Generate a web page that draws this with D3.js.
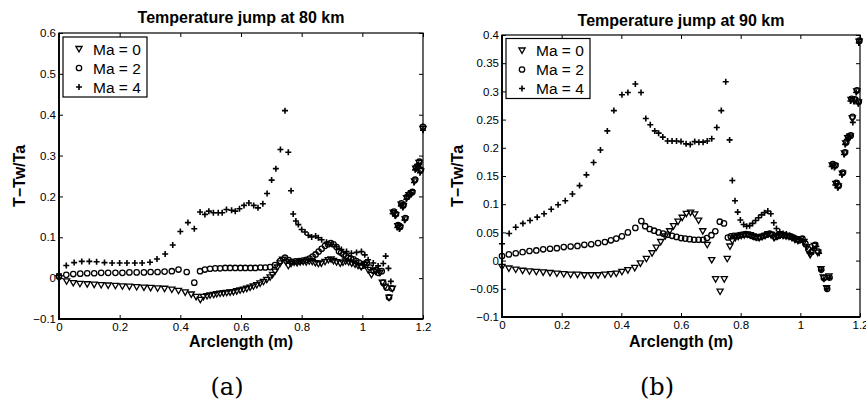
<!DOCTYPE html>
<html>
<head>
<meta charset="utf-8">
<script src="https://cdn.jsdelivr.net/npm/d3@7"></script>
<style>
  body { margin: 0; background: #fff; }
  svg { display: block; }
  .tick text { font-family: "Liberation Sans", Arial, sans-serif; font-size: 11.5px; fill: #000; }
  .tick line { stroke: #000; stroke-width: 1; }
  .lbl { font-family: "Liberation Sans", Arial, sans-serif; font-weight: bold; font-size: 16px; fill: #000; }
  .leg { font-family: "Liberation Sans", Arial, sans-serif; font-size: 15.5px; fill: #000; }
  .cap { font-family: "DejaVu Serif", serif; font-size: 24px; fill: #000; }
</style>
</head>
<body>
<svg id="chart" width="866" height="406"></svg>
<script>
// ---- data (arclength m, T-Tw/Ta) ----
const legendNames = ["Ma = 0", "Ma = 2", "Ma = 4"];
const xTicks = [0, 0.2, 0.4, 0.6, 0.8, 1, 1.2];
const xTickLabels = ["0", "0.2", "0.4", "0.6", "0.8", "1", "1.2"];
const yTicks80 = [-0.1, 0, 0.1, 0.2, 0.3, 0.4, 0.5, 0.6];
const yTickLabels80 = ["\u22120.1", "0", "0.1", "0.2", "0.3", "0.4", "0.5", "0.6"];
const yTicks90 = [-0.1, -0.05, 0, 0.05, 0.1, 0.15, 0.2, 0.25, 0.3, 0.35, 0.4];
const yTickLabels90 = ["\u22120.1", "\u22120.05", "0", "0.05", "0.1", "0.15", "0.2", "0.25", "0.3", "0.35", "0.4"];

// 80 km
const ma0_80 = [[0,0],[0.025,-0.008],[0.047,-0.012],[0.069,-0.014],[0.093,-0.015],[0.116,-0.016],[0.139,-0.017],[0.162,-0.018],[0.186,-0.019],[0.209,-0.02],[0.232,-0.021],[0.256,-0.022],[0.28,-0.023],[0.302,-0.024],[0.325,-0.025],[0.348,-0.026],[0.372,-0.028],[0.394,-0.031],[0.416,-0.035],[0.436,-0.04],[0.452,-0.046],[0.466,-0.053],[0.476,-0.046],[0.488,-0.044],[0.498,-0.042],[0.51,-0.041],[0.52,-0.039],[0.531,-0.038],[0.542,-0.037],[0.553,-0.036],[0.564,-0.035],[0.575,-0.034],[0.586,-0.032],[0.597,-0.03],[0.608,-0.028],[0.619,-0.026],[0.63,-0.023],[0.641,-0.02],[0.652,-0.017],[0.663,-0.013],[0.674,-0.009],[0.685,-0.004],[0.696,0.002],[0.704,0.008],[0.712,0.016],[0.72,0.026],[0.729,0.036],[0.737,0.045],[0.748,0.04],[0.756,0.03],[0.765,0.035],[0.775,0.038],[0.785,0.037],[0.795,0.039],[0.805,0.04],[0.815,0.039],[0.825,0.041],[0.835,0.04],[0.845,0.037],[0.855,0.035],[0.865,0.036],[0.877,0.04],[0.888,0.044],[0.897,0.046],[0.905,0.042],[0.915,0.039],[0.927,0.036],[0.936,0.038],[0.945,0.041],[0.955,0.039],[0.965,0.036],[0.976,0.033],[0.986,0.03],[0.996,0.027],[1.008,0.032],[1.019,0.02],[1.03,0.008],[1.044,0.016],[1.058,0.013],[1.066,-0.011],[1.075,-0.021],[1.088,-0.048],[1.099,-0.026],[1.102,0.16],[1.11,0.154],[1.117,0.127],[1.124,0.123],[1.128,0.18],[1.135,0.176],[1.141,0.144],[1.146,0.196],[1.154,0.203],[1.163,0.208],[1.172,0.237],[1.176,0.268],[1.183,0.272],[1.187,0.282],[1.192,0.262],[1.2,0.365]];
const ma2_80 = [[0,0.004],[0.024,0.008],[0.047,0.01],[0.07,0.011],[0.093,0.012],[0.116,0.012],[0.139,0.013],[0.162,0.013],[0.186,0.013],[0.209,0.013],[0.232,0.014],[0.256,0.014],[0.28,0.014],[0.302,0.015],[0.325,0.015],[0.348,0.016],[0.372,0.017],[0.394,0.021],[0.421,0.015],[0.446,-0.011],[0.465,0.017],[0.481,0.021],[0.498,0.023],[0.515,0.024],[0.531,0.024],[0.548,0.025],[0.564,0.025],[0.581,0.025],[0.598,0.025],[0.614,0.025],[0.631,0.025],[0.647,0.025],[0.664,0.026],[0.68,0.026],[0.696,0.027],[0.712,0.032],[0.729,0.042],[0.745,0.05],[0.757,0.044],[0.768,0.04],[0.78,0.041],[0.792,0.042],[0.804,0.043],[0.815,0.045],[0.826,0.048],[0.836,0.053],[0.846,0.058],[0.856,0.065],[0.866,0.072],[0.877,0.079],[0.887,0.083],[0.896,0.086],[0.905,0.083],[0.915,0.076],[0.923,0.066],[0.93,0.062],[0.938,0.058],[0.946,0.054],[0.954,0.05],[0.962,0.048],[0.971,0.046],[0.98,0.042],[0.989,0.038],[0.998,0.03],[1.006,0.035],[1.015,0.038],[1.026,0.026],[1.037,0.018],[1.047,0.02],[1.053,0.013],[1.064,0.017],[1.069,-0.011],[1.08,-0.023],[1.088,-0.047],[1.097,-0.025],[1.104,0.163],[1.111,0.157],[1.118,0.13],[1.125,0.126],[1.129,0.183],[1.136,0.179],[1.142,0.147],[1.148,0.199],[1.156,0.206],[1.165,0.211],[1.174,0.241],[1.177,0.27],[1.184,0.274],[1.188,0.285],[1.193,0.265],[1.2,0.37]];
const ma4_80 = [[0,0.01],[0.024,0.031],[0.05,0.038],[0.075,0.041],[0.1,0.041],[0.124,0.04],[0.15,0.038],[0.175,0.037],[0.2,0.037],[0.224,0.037],[0.25,0.037],[0.274,0.037],[0.3,0.039],[0.323,0.047],[0.35,0.059],[0.375,0.081],[0.4,0.114],[0.425,0.136],[0.446,0.121],[0.465,0.162],[0.481,0.156],[0.494,0.164],[0.509,0.16],[0.525,0.16],[0.538,0.16],[0.552,0.168],[0.569,0.166],[0.581,0.164],[0.595,0.17],[0.61,0.178],[0.626,0.184],[0.642,0.178],[0.656,0.172],[0.672,0.182],[0.686,0.207],[0.701,0.24],[0.715,0.268],[0.73,0.315],[0.745,0.41],[0.756,0.308],[0.765,0.214],[0.772,0.157],[0.781,0.14],[0.789,0.131],[0.8,0.119],[0.811,0.113],[0.822,0.105],[0.833,0.101],[0.846,0.103],[0.855,0.099],[0.866,0.094],[0.882,0.088],[0.899,0.083],[0.915,0.077],[0.931,0.07],[0.948,0.065],[0.964,0.061],[0.981,0.063],[0.997,0.065],[1.008,0.057],[1.019,0.045],[1.036,0.037],[1.052,0.03],[1.069,0.036],[1.077,0.054],[1.086,0.024],[1.094,-0.008],[1.1,0.158],[1.108,0.152],[1.115,0.124],[1.122,0.12],[1.127,0.177],[1.133,0.173],[1.139,0.142],[1.145,0.193],[1.152,0.2],[1.161,0.205],[1.17,0.234],[1.174,0.265],[1.18,0.268],[1.186,0.279],[1.19,0.258],[1.2,0.362]];

// 90 km
const ma0_90 = [[0,-0.011],[0.023,-0.014],[0.046,-0.016],[0.069,-0.018],[0.092,-0.019],[0.115,-0.02],[0.138,-0.021],[0.161,-0.022],[0.184,-0.023],[0.207,-0.024],[0.23,-0.025],[0.253,-0.025],[0.276,-0.026],[0.299,-0.026],[0.322,-0.026],[0.345,-0.025],[0.365,-0.024],[0.383,-0.023],[0.402,-0.02],[0.422,-0.017],[0.445,-0.013],[0.464,-0.005],[0.484,0.003],[0.503,0.013],[0.517,0.023],[0.532,0.033],[0.547,0.043],[0.562,0.052],[0.575,0.061],[0.59,0.069],[0.604,0.076],[0.618,0.083],[0.632,0.085],[0.646,0.082],[0.659,0.071],[0.673,0.052],[0.688,0.028],[0.703,0.001],[0.716,-0.033],[0.731,-0.055],[0.745,-0.033],[0.755,0.003],[0.764,0.025],[0.772,0.035],[0.782,0.04],[0.792,0.042],[0.802,0.044],[0.812,0.045],[0.822,0.046],[0.832,0.045],[0.842,0.043],[0.852,0.041],[0.862,0.04],[0.872,0.042],[0.882,0.044],[0.892,0.047],[0.902,0.045],[0.912,0.04],[0.922,0.043],[0.932,0.045],[0.942,0.044],[0.952,0.043],[0.962,0.042],[0.972,0.04],[0.982,0.037],[0.992,0.035],[1.002,0.038],[1.012,0.033],[1.022,0.024],[1.033,0.01],[1.047,0.026],[1.058,0.014],[1.069,-0.015],[1.077,-0.03],[1.088,-0.049],[1.096,-0.028],[1.107,0.169],[1.116,0.167],[1.119,0.136],[1.127,0.131],[1.141,0.154],[1.148,0.19],[1.152,0.208],[1.159,0.217],[1.167,0.22],[1.174,0.252],[1.17,0.285],[1.181,0.284],[1.189,0.3],[1.195,0.28],[1.197,0.388]];
const ma2_90 = [[0,0.008],[0.023,0.011],[0.046,0.013],[0.069,0.015],[0.092,0.017],[0.115,0.018],[0.138,0.02],[0.161,0.021],[0.184,0.022],[0.207,0.024],[0.23,0.025],[0.253,0.026],[0.276,0.028],[0.299,0.029],[0.322,0.031],[0.345,0.033],[0.365,0.036],[0.383,0.039],[0.402,0.043],[0.422,0.05],[0.447,0.058],[0.467,0.07],[0.48,0.061],[0.495,0.056],[0.51,0.053],[0.525,0.05],[0.54,0.048],[0.555,0.046],[0.57,0.044],[0.585,0.042],[0.6,0.04],[0.614,0.039],[0.629,0.038],[0.644,0.037],[0.659,0.037],[0.674,0.037],[0.687,0.04],[0.702,0.045],[0.715,0.052],[0.73,0.069],[0.744,0.066],[0.757,0.041],[0.767,0.043],[0.777,0.044],[0.787,0.044],[0.797,0.045],[0.807,0.046],[0.817,0.047],[0.827,0.046],[0.837,0.044],[0.847,0.042],[0.857,0.041],[0.867,0.042],[0.877,0.044],[0.887,0.046],[0.897,0.048],[0.907,0.046],[0.917,0.042],[0.927,0.044],[0.937,0.046],[0.947,0.045],[0.957,0.044],[0.967,0.043],[0.977,0.041],[0.987,0.038],[0.997,0.036],[1.007,0.039],[1.017,0.03],[1.027,0.02],[1.037,0.015],[1.05,0.028],[1.06,0.016],[1.07,-0.016],[1.079,-0.031],[1.09,-0.05],[1.098,-0.03],[1.109,0.171],[1.118,0.169],[1.121,0.138],[1.129,0.133],[1.143,0.156],[1.15,0.192],[1.154,0.21],[1.161,0.219],[1.169,0.222],[1.175,0.255],[1.172,0.287],[1.183,0.286],[1.19,0.302],[1.196,0.282],[1.198,0.39]];
const ma4_90 = [[0,0.03],[0.024,0.048],[0.046,0.059],[0.07,0.066],[0.094,0.071],[0.118,0.077],[0.141,0.083],[0.165,0.091],[0.188,0.099],[0.212,0.106],[0.236,0.118],[0.26,0.133],[0.283,0.152],[0.307,0.174],[0.33,0.196],[0.353,0.23],[0.375,0.266],[0.402,0.294],[0.422,0.298],[0.447,0.313],[0.466,0.298],[0.482,0.252],[0.497,0.241],[0.512,0.23],[0.525,0.226],[0.539,0.219],[0.555,0.212],[0.57,0.212],[0.585,0.212],[0.6,0.211],[0.617,0.207],[0.631,0.206],[0.646,0.211],[0.66,0.21],[0.674,0.21],[0.688,0.212],[0.703,0.216],[0.72,0.236],[0.735,0.266],[0.75,0.317],[0.763,0.214],[0.772,0.142],[0.781,0.106],[0.79,0.086],[0.799,0.072],[0.81,0.064],[0.82,0.061],[0.83,0.062],[0.84,0.066],[0.85,0.071],[0.86,0.076],[0.87,0.081],[0.88,0.085],[0.891,0.088],[0.901,0.083],[0.911,0.067],[0.92,0.057],[0.931,0.051],[0.942,0.048],[0.953,0.047],[0.964,0.045],[0.975,0.042],[0.987,0.039],[0.998,0.038],[1.009,0.034],[1.02,0.025],[1.031,0.013],[1.042,0.022],[1.054,0.025],[1.063,0.013],[1.07,-0.017],[1.079,-0.033],[1.089,-0.05],[1.097,-0.031],[1.105,0.167],[1.114,0.165],[1.117,0.134],[1.125,0.129],[1.139,0.152],[1.146,0.188],[1.15,0.206],[1.157,0.215],[1.165,0.218],[1.176,0.245],[1.168,0.283],[1.179,0.282],[1.187,0.298],[1.194,0.278],[1.196,0.386]];

// ---- drawing ----
const svg = d3.select("#chart");

const triPath = "M-3.1,-2.5L3.1,-2.5L0,2.9Z";
const plusPath = "M-3,0H3M0,-3V3";

function marker(sel, kind) {
  if (kind === "tri") {
    sel.append("path").attr("d", triPath).attr("fill", "none")
      .attr("stroke", "#000").attr("stroke-width", 1.3);
  } else if (kind === "circ") {
    sel.append("circle").attr("r", 2.7).attr("fill", "none")
      .attr("stroke", "#000").attr("stroke-width", 1.3);
  } else {
    sel.append("path").attr("d", plusPath).attr("fill", "none")
      .attr("stroke", "#000").attr("stroke-width", 1.6);
  }
}

function drawPanel(p) {
  const x = d3.scaleLinear([0, 1.2], [p.left, p.right]);
  const y = d3.scaleLinear(p.yDomain, [p.bottom, p.top]);
  const g = svg.append("g");

  // axes, ticks pointing inwards like matlab
  g.append("g").attr("transform", `translate(0,${p.bottom})`)
    .call(d3.axisBottom(x).tickValues(xTicks).tickSize(-4).tickSizeOuter(0)
      .tickPadding(4).tickFormat((d, i) => xTickLabels[i]));
  g.append("g").attr("transform", `translate(0,${p.top})`)
    .call(d3.axisTop(x).tickValues(xTicks).tickSize(-4).tickSizeOuter(0).tickFormat(""));
  g.append("g").attr("transform", `translate(${p.left},0)`)
    .call(d3.axisLeft(y).tickValues(p.yTicks).tickSize(-4).tickSizeOuter(0)
      .tickPadding(3).tickFormat((d, i) => p.yLabels[i]));
  g.append("g").attr("transform", `translate(${p.right},0)`)
    .call(d3.axisRight(y).tickValues(p.yTicks).tickSize(-4).tickSizeOuter(0).tickFormat(""));
  g.selectAll(".domain").remove();

  // box
  g.append("rect").attr("x", p.left).attr("y", p.top)
    .attr("width", p.right - p.left).attr("height", p.bottom - p.top)
    .attr("fill", "none").attr("stroke", "#000").attr("stroke-width", 1.2);
  g.append("path")
    .attr("d", `M${p.left},${p.top}V${p.bottom}H${p.right}`)
    .attr("fill", "none").attr("stroke", "#000").attr("stroke-width", 1.8);

  // data
  const series = [[p.s0, "tri"], [p.s2, "circ"], [p.s4, "plus"]];
  series.forEach(([data, kind]) => {
    g.append("g").selectAll("g").data(data).join("g")
      .attr("transform", (d) => `translate(${x(d[0])},${y(d[1])})`)
      .call(marker, kind);
  });

  // legend
  const lg = g.append("g").attr("transform", `translate(${p.legX},${p.legY})`);
  lg.append("rect").attr("width", 84).attr("height", 60)
    .attr("fill", "#fff").attr("stroke", "#000").attr("stroke-width", 1.2);
  ["tri", "circ", "plus"].forEach((k, i) => {
    const row = lg.append("g").attr("transform", `translate(0,${12 + i * 19})`);
    row.append("g").attr("transform", "translate(16,0)").call(marker, k);
    row.append("text").attr("class", "leg").attr("x", 30).attr("y", 5.5).text(legendNames[i]);
  });

  // labels
  const cx = (p.left + p.right) / 2;
  g.append("text").attr("class", "lbl").attr("x", cx).attr("y", p.titleY)
    .attr("text-anchor", "middle").text(p.title);
  g.append("text").attr("class", "lbl").attr("x", cx).attr("y", 347)
    .attr("text-anchor", "middle").text("Arclength (m)");
  g.append("text").attr("class", "lbl")
    .attr("transform", `translate(${p.ylabX},${(p.top + p.bottom) / 2}) rotate(-90)`)
    .attr("text-anchor", "middle").text("T\u2212Tw/Ta");
  g.append("text").attr("class", "cap").attr("x", p.capX).attr("y", 395)
    .attr("text-anchor", "middle").text(p.cap);
}

drawPanel({
  left: 59, right: 423, top: 33, bottom: 319,
  yDomain: [-0.1, 0.6], yTicks: yTicks80, yLabels: yTickLabels80,
  s0: ma0_80, s2: ma2_80, s4: ma4_80,
  legX: 63, legY: 37, title: "Temperature jump at 80 km", titleY: 22.5,
  ylabX: 25, cap: "(a)", capX: 227
});
drawPanel({
  left: 502, right: 860, top: 35, bottom: 317,
  yDomain: [-0.1, 0.4], yTicks: yTicks90, yLabels: yTickLabels90,
  s0: ma0_90, s2: ma2_90, s4: ma4_90,
  legX: 506, legY: 38.5, title: "Temperature jump at 90 km", titleY: 26,
  ylabX: 463, cap: "(b)", capX: 657
});
</script>
</body>
</html>
